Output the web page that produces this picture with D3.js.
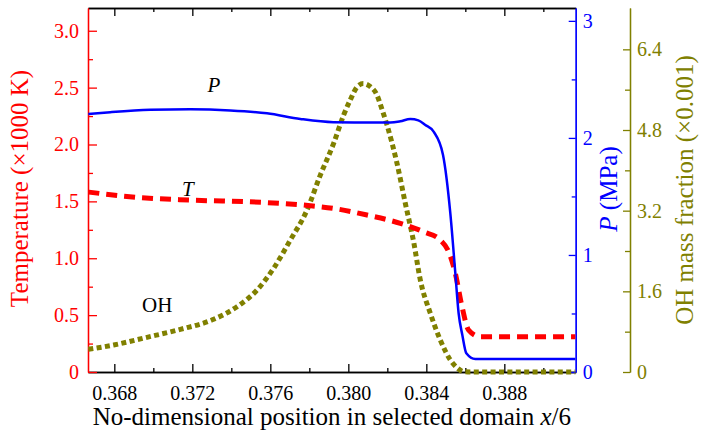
<!DOCTYPE html>
<html>
<head>
<meta charset="utf-8">
<script src="https://cdn.jsdelivr.net/npm/d3@7"></script>
<style>
  body { margin: 0; background: #fff; }
  text { font-family: "Liberation Serif", "Times New Roman", serif; }
</style>
</head>
<body>
<div id="chart"></div>
<script>
// DATA
const xPos = [0.366667, 0.367795, 0.369846, 0.371897, 0.373949, 0.375831, 0.377538, 0.379231,
              0.380615, 0.382154, 0.382667, 0.383179, 0.383590, 0.383949, 0.384374, 0.384856,
              0.385231, 0.385487, 0.385656, 0.385846, 0.386051, 0.386513, 0.391641];
const pValues = [2.205, 2.22, 2.24, 2.245, 2.235, 2.21, 2.162, 2.134,
                 2.132, 2.131, 2.142, 2.162, 2.15, 2.111, 2.054, 1.855,
                 1.356, 0.844, 0.502, 0.316, 0.160, 0.111, 0.111];

const xPosT = [0.366667, 0.369164, 0.371897, 0.375656, 0.378051, 0.379246, 0.380959, 0.382667,
               0.383862, 0.384718, 0.385144, 0.385487, 0.385831, 0.386169, 0.386769, 0.391641];
const tValues = [1.582, 1.535, 1.511, 1.491, 1.462, 1.438, 1.380, 1.307,
                 1.233, 1.160, 1.057, 0.867, 0.574, 0.369, 0.310, 0.310];

const xPosOH = [0.366667, 0.367964, 0.369677, 0.371385, 0.373092, 0.374292, 0.375318, 0.376169,
                0.377026, 0.377882, 0.378564, 0.379246, 0.379759, 0.380103, 0.380462, 0.380769,
                0.381128, 0.381472, 0.381692, 0.381985, 0.382497, 0.382923, 0.383349, 0.383692,
                0.384205, 0.384718, 0.385231, 0.385590, 0.385913, 0.386256, 0.391641];
const ohValues = [0.45, 0.535, 0.688, 0.846, 1.045, 1.295, 1.626, 2.056,
                  2.617, 3.212, 3.906, 4.534, 5.095, 5.40, 5.66, 5.72,
                  5.66, 5.49, 5.25, 4.897, 4.137, 3.345, 2.583, 1.824,
                  1.164, 0.634, 0.238, 0.08, 0.006, 0, 0];

// tick values / labels
const xTicks = [0.368, 0.372, 0.376, 0.380, 0.384, 0.388];
const xTickLabels = ["0.368", "0.372", "0.376", "0.380", "0.384", "0.388"];
const xMinor = [0.370, 0.374, 0.378, 0.382, 0.386, 0.390];
const tTicks = [0, 0.5, 1.0, 1.5, 2.0, 2.5, 3.0];
const tTickLabels = ["0", "0.5", "1.0", "1.5", "2.0", "2.5", "3.0"];
const tMinor = [0.25, 0.75, 1.25, 1.75, 2.25, 2.75];
const pTicks = [0, 1, 2, 3];
const pTickLabels = ["0", "1", "2", "3"];
const pMinor = [0.5, 1.5, 2.5];
const ohTicks = [0, 1.6, 3.2, 4.8, 6.4];
const ohTickLabels = ["0", "1.6", "3.2", "4.8", "6.4"];
const ohMinor = [0.8, 2.4, 4.0, 5.6];

// 1: LAYOUT
const W = 704, H = 433;
const margin = { top: 8, left: 88 };
const width = 487.7, height = 364;
const ohAxisX = 542;   // offset of the OH axis from plot left

const RED = "#ff0000", BLUE = "#0000ff", OLIVE = "#808000";
const SERIF = "'Liberation Serif', 'Times New Roman', serif";

const svg = d3.select("#chart").append("svg")
    .attr("width", W).attr("height", H)
    .style("font-family", SERIF);
const g = svg.append("g").attr("transform", `translate(${margin.left},${margin.top})`);

// 2: SCALES
const xScale = d3.scaleLinear().domain([0.36665, 0.39166]).range([0, width]);
const yT = d3.scaleLinear().domain([0, 3.2]).range([height, 0]);
const yP = d3.scaleLinear().domain([0, 3.11]).range([height, 0]);
const yOH = d3.scaleLinear().domain([0, 7.22]).range([height, 0]);

// helper to style an axis group
function styleAxis(sel, color) {
    sel.attr("font-family", null);
    sel.select(".domain").attr("stroke", color).attr("stroke-width", 1.3);
    sel.selectAll(".tick line").attr("stroke", color).attr("stroke-width", 1.3);
    sel.selectAll(".tick text").attr("fill", color)
        .style("font-size", "20px")
        .style("font-family", SERIF);
}

// 3: AXES
// bottom x axis (ticks inward)
const xAxisG = g.append("g").attr("transform", `translate(0,${height})`)
    .call(d3.axisBottom(xScale).tickValues(xTicks)
        .tickFormat((d, i) => xTickLabels[i]).tickSizeInner(-8).tickSizeOuter(0).tickPadding(14));
styleAxis(xAxisG, "#000");
const xMinorG = g.append("g").attr("transform", `translate(0,${height})`)
    .call(d3.axisBottom(xScale).tickValues(xMinor).tickFormat("").tickSizeInner(-4).tickSizeOuter(0));
styleAxis(xMinorG, "#000");

// top border
const topG = g.append("g")
    .call(d3.axisTop(xScale).tickValues(xTicks).tickFormat("").tickSizeInner(-8).tickSizeOuter(0));
styleAxis(topG, "#000");
const topMinorG = g.append("g")
    .call(d3.axisTop(xScale).tickValues(xMinor).tickFormat("").tickSizeInner(-4).tickSizeOuter(0));
styleAxis(topMinorG, "#000");

// left temperature axis
const tAxisG = g.append("g")
    .call(d3.axisLeft(yT).tickValues(tTicks)
        .tickFormat((d, i) => tTickLabels[i]).tickSizeInner(-9).tickSizeOuter(0).tickPadding(9));
styleAxis(tAxisG, RED);
const tMinorG = g.append("g")
    .call(d3.axisLeft(yT).tickValues(tMinor).tickFormat("").tickSizeInner(-5).tickSizeOuter(0));
styleAxis(tMinorG, RED);

// right pressure axis
const pAxisG = g.append("g").attr("transform", `translate(${width},0)`)
    .call(d3.axisRight(yP).tickValues(pTicks)
        .tickFormat((d, i) => pTickLabels[i]).tickSizeInner(-7).tickSizeOuter(0).tickPadding(7));
styleAxis(pAxisG, BLUE);
const pMinorG = g.append("g").attr("transform", `translate(${width},0)`)
    .call(d3.axisRight(yP).tickValues(pMinor).tickFormat("").tickSizeInner(-4).tickSizeOuter(0));
styleAxis(pMinorG, BLUE);

// far right OH axis
const ohAxisG = g.append("g").attr("transform", `translate(${ohAxisX},0)`)
    .call(d3.axisRight(yOH).tickValues(ohTicks)
        .tickFormat((d, i) => ohTickLabels[i]).tickSizeInner(-7).tickSizeOuter(0).tickPadding(7));
styleAxis(ohAxisG, OLIVE);
const ohMinorG = g.append("g").attr("transform", `translate(${ohAxisX},0)`)
    .call(d3.axisRight(yOH).tickValues(ohMinor).tickFormat("").tickSizeInner(-5).tickSizeOuter(0));
styleAxis(ohMinorG, OLIVE);

// 4: LINES
const lineOH = d3.line()
    .x((d, i) => xScale(xPosOH[i]))
    .y(d => yOH(d))
    .curve(d3.curveMonotoneX);
g.append("path")
    .attr("d", lineOH(ohValues))
    .attr("fill", "none")
    .attr("stroke", OLIVE)
    .attr("stroke-width", 5)
    .attr("stroke-dasharray", "5,3.4");

const lineT = d3.line()
    .x((d, i) => xScale(xPosT[i]))
    .y(d => yT(d))
    .curve(d3.curveMonotoneX);
g.append("path")
    .attr("d", lineT(tValues))
    .attr("fill", "none")
    .attr("stroke", RED)
    .attr("stroke-width", 5)
    .attr("stroke-dasharray", "11,7");

const lineP = d3.line()
    .x((d, i) => xScale(xPos[i]))
    .y(d => yP(d))
    .curve(d3.curveMonotoneX);
g.append("path")
    .attr("d", lineP(pValues))
    .attr("fill", "none")
    .attr("stroke", BLUE)
    .attr("stroke-width", 2.5);

// 5: LABELS
// curve labels
g.append("text").attr("x", 119.5).attr("y", 84)
    .style("font-size", "21px").style("font-style", "italic").text("P");
g.append("text").attr("x", 94).attr("y", 188)
    .style("font-size", "21px").style("font-style", "italic").text("T");
g.append("text").attr("x", 54).attr("y", 304)
    .style("font-size", "21px").text("OH");

// x-axis title
const xTitle = g.append("text")
    .attr("x", width / 2).attr("y", height + 53)
    .attr("text-anchor", "middle")
    .style("font-size", "25px");
xTitle.append("tspan").text("No-dimensional position in selected domain ");
xTitle.append("tspan").style("font-style", "italic").text("x");
xTitle.append("tspan").text("/6");

// left title
g.append("text")
    .attr("transform", "rotate(-90)")
    .attr("x", -180.5).attr("y", -60)
    .attr("text-anchor", "middle")
    .attr("fill", RED)
    .style("font-size", "25px")
    .text("Temperature (\u00d71000 K)");

// pressure title
const pTitle = g.append("text")
    .attr("transform", "rotate(-90)")
    .attr("x", -181).attr("y", width + 41)
    .attr("text-anchor", "middle")
    .attr("fill", BLUE)
    .style("font-size", "25px");
pTitle.append("tspan").style("font-style", "italic").text("P");
pTitle.append("tspan").text(" (MPa)");

// OH title
g.append("text")
    .attr("transform", "rotate(-90)")
    .attr("x", -height / 2).attr("y", ohAxisX + 63)
    .attr("text-anchor", "middle")
    .attr("fill", OLIVE)
    .style("font-size", "25px")
    .text("OH mass fraction (\u00d70.001)");
</script>
</body>
</html>
